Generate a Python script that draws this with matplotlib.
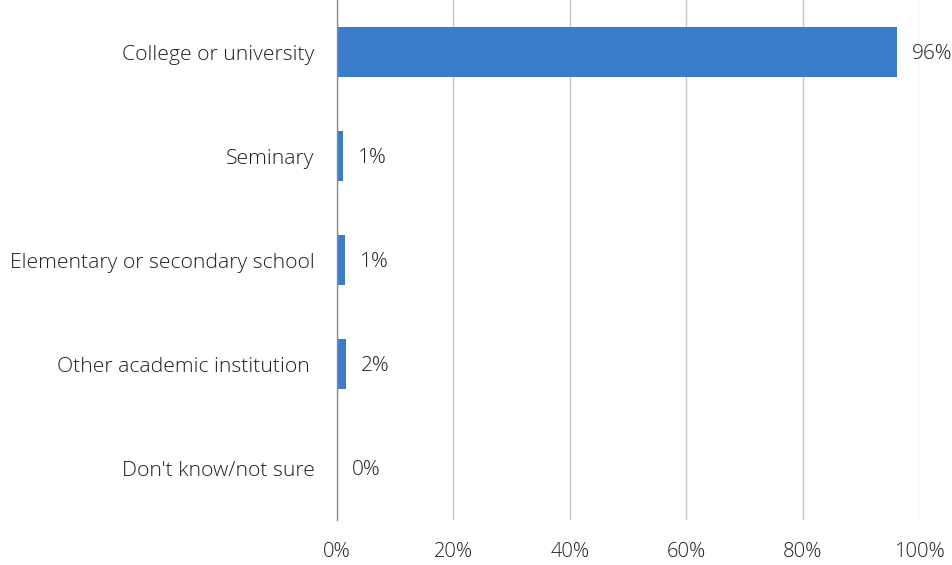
import matplotlib.pyplot as plt
from matplotlib.ticker import FuncFormatter

plt.rcParams['font.family'] = ['Open Sans', 'DejaVu Sans']

categories = ['College or university', 'Seminary', 'Elementary or secondary school',
              'Other academic institution ', "Don't know/not sure"]
values = [96.2, 1.1, 1.3, 1.6, 0.0]
labels = ['96%', '1%', '1%', '2%', '0%']
ticks = [0, 20, 40, 60, 80, 100]

bar_color = '#3A7CC9'
txt = '#1F1F1F'

fig = plt.figure(figsize=(9.52, 5.65), dpi=100)
ax = fig.add_axes([0.354, 0.0796, 0.6113, 0.9204])

y = list(range(len(categories)))
ax.barh(y, values, height=0.49, color=bar_color, zorder=3)
ax.set_ylim(len(categories) - 0.5, -0.5)
ax.set_xlim(0, 100)
ax.set_yticks(y)
ax.set_yticklabels(categories, fontsize=15.2, color=txt, fontweight='light')
ax.set_xticks(ticks)
ax.xaxis.set_major_formatter(FuncFormatter(lambda v, p: f'{v:.0f}%'))
for t in ax.get_xticklabels():
    t.set_fontsize(14.5)
    t.set_color(txt)
    t.set_fontweight('light')

ax.grid(axis='x', color='#C6C6C6', linewidth=1, zorder=0)
ax.tick_params(axis='both', length=0)
ax.tick_params(axis='y', pad=16)
ax.tick_params(axis='x', pad=16)
for s in ['top', 'right', 'bottom']:
    ax.spines[s].set_visible(False)
ax.spines['left'].set_color('#8C8C8C')
ax.spines['left'].set_linewidth(1)
ax.spines['left'].set_zorder(4)

# value labels just right of each bar
for yi, v, lab in zip(y, values, labels):
    ax.annotate(lab, (v, yi), xytext=(15, -2), textcoords='offset pixels',
                va='center', ha='left', fontsize=15, color=txt,
                fontweight='light', annotation_clip=False)

fig.savefig('out.png', dpi=100)
